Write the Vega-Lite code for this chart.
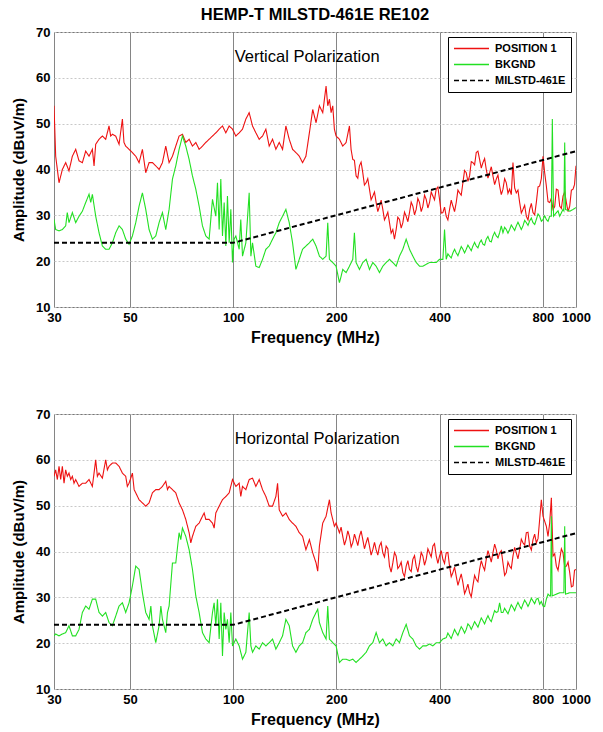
{
  "$schema": "https://vega.github.io/schema/vega-lite/v6.json",
  "padding": {"left": 11, "top": 6, "right": 10, "bottom": 2},
  "background": "white",
  "config": {
    "font": "Liberation Sans",
    "view": {"stroke": "#777777", "strokeWidth": 1},
    "axis": {"labelFont": "Liberation Sans", "labelFontWeight": "bold", "labelFontSize": 13, "labelColor": "black", "titleFont": "Liberation Sans", "titleFontWeight": "bold", "titleFontSize": 15, "titleColor": "black", "domain": false, "ticks": false},
    "legend": {"title": null, "orient": "top-right", "offset": 5, "fillColor": "white", "strokeColor": "black", "padding": 5, "symbolType": "stroke", "symbolSize": 1225, "symbolStrokeWidth": 1.5, "clipHeight": 13, "labelFont": "Liberation Sans", "labelFontSize": 11, "labelFontWeight": "bold", "labelColor": "black", "rowPadding": 3, "labelOffset": 5},
    "title": {"font": "Liberation Sans", "fontSize": 16.5, "fontWeight": "bold", "color": "black", "offset": 3}
  },
  "resolve": {"scale": {"color": "independent", "strokeDash": "independent"}, "legend": {"color": "independent", "strokeDash": "independent"}},
  "spacing": 61,
  "datasets": {
    "vert": [
      {"series":"POSITION 1","freq":30,"amp":53.9},{"series":"POSITION 1","freq":30.34,"amp":42.9},{"series":"POSITION 1","freq":31.03,"amp":37.1},{"series":"POSITION 1","freq":31.73,"amp":40.0},{"series":"POSITION 1","freq":32.45,"amp":41.5},{"series":"POSITION 1","freq":33.18,"amp":39.7},{"series":"POSITION 1","freq":33.94,"amp":42.9},{"series":"POSITION 1","freq":34.71,"amp":44.4},{"series":"POSITION 1","freq":35.49,"amp":41.9},{"series":"POSITION 1","freq":36.3,"amp":41.5},{"series":"POSITION 1","freq":37.12,"amp":44.0},{"series":"POSITION 1","freq":37.96,"amp":42.9},{"series":"POSITION 1","freq":38.82,"amp":44.4},{"series":"POSITION 1","freq":39.26,"amp":40.8},{"series":"POSITION 1","freq":39.7,"amp":45.5},{"series":"POSITION 1","freq":40.6,"amp":46.6},{"series":"POSITION 1","freq":41.52,"amp":47.3},{"series":"POSITION 1","freq":42.46,"amp":46.6},{"series":"POSITION 1","freq":43.42,"amp":49.5},{"series":"POSITION 1","freq":43.9,"amp":47.3},{"series":"POSITION 1","freq":44.41,"amp":47.7},{"series":"POSITION 1","freq":45.41,"amp":47.3},{"series":"POSITION 1","freq":46.44,"amp":45.5},{"series":"POSITION 1","freq":47.5,"amp":51.0},{"series":"POSITION 1","freq":48.0,"amp":45.9},{"series":"POSITION 1","freq":48.57,"amp":45.1},{"series":"POSITION 1","freq":49.67,"amp":44.4},{"series":"POSITION 1","freq":50.8,"amp":43.7},{"series":"POSITION 1","freq":51.95,"amp":42.9},{"series":"POSITION 1","freq":53.13,"amp":41.5},{"series":"POSITION 1","freq":54.33,"amp":44.4},{"series":"POSITION 1","freq":55.56,"amp":39.3},{"series":"POSITION 1","freq":56.82,"amp":41.5},{"series":"POSITION 1","freq":58.11,"amp":41.5},{"series":"POSITION 1","freq":59.43,"amp":40.8},{"series":"POSITION 1","freq":60.77,"amp":40.0},{"series":"POSITION 1","freq":62.15,"amp":41.5},{"series":"POSITION 1","freq":63.56,"amp":45.1},{"series":"POSITION 1","freq":65.0,"amp":41.5},{"series":"POSITION 1","freq":66.48,"amp":42.9},{"series":"POSITION 1","freq":67.98,"amp":45.1},{"series":"POSITION 1","freq":69.52,"amp":47.3},{"series":"POSITION 1","freq":71.1,"amp":47.7},{"series":"POSITION 1","freq":72.71,"amp":45.9},{"series":"POSITION 1","freq":74.36,"amp":46.6},{"series":"POSITION 1","freq":76.04,"amp":45.1},{"series":"POSITION 1","freq":77.77,"amp":45.9},{"series":"POSITION 1","freq":79.53,"amp":44.4},{"series":"POSITION 1","freq":81.33,"amp":45.1},{"series":"POSITION 1","freq":83.18,"amp":45.9},{"series":"POSITION 1","freq":85.06,"amp":46.6},{"series":"POSITION 1","freq":86.99,"amp":47.3},{"series":"POSITION 1","freq":88.96,"amp":48.0},{"series":"POSITION 1","freq":90.98,"amp":48.8},{"series":"POSITION 1","freq":93.04,"amp":49.5},{"series":"POSITION 1","freq":95.15,"amp":48.0},{"series":"POSITION 1","freq":97.31,"amp":49.5},{"series":"POSITION 1","freq":99.51,"amp":48.8},{"series":"POSITION 1","freq":101.77,"amp":47.3},{"series":"POSITION 1","freq":104.07,"amp":48.0},{"series":"POSITION 1","freq":106.43,"amp":48.8},{"series":"POSITION 1","freq":108.85,"amp":51.0},{"series":"POSITION 1","freq":111.31,"amp":52.4},{"series":"POSITION 1","freq":113.84,"amp":49.5},{"series":"POSITION 1","freq":116.42,"amp":48.0},{"series":"POSITION 1","freq":119.06,"amp":46.6},{"series":"POSITION 1","freq":121.76,"amp":47.3},{"series":"POSITION 1","freq":124.52,"amp":48.8},{"series":"POSITION 1","freq":127.34,"amp":45.1},{"series":"POSITION 1","freq":130.23,"amp":46.6},{"series":"POSITION 1","freq":133.18,"amp":44.4},{"series":"POSITION 1","freq":136.2,"amp":45.9},{"series":"POSITION 1","freq":139.29,"amp":44.4},{"series":"POSITION 1","freq":142.44,"amp":49.5},{"series":"POSITION 1","freq":145.67,"amp":46.6},{"series":"POSITION 1","freq":148.98,"amp":44.4},{"series":"POSITION 1","freq":152.35,"amp":43.7},{"series":"POSITION 1","freq":155.81,"amp":42.9},{"series":"POSITION 1","freq":159.34,"amp":41.5},{"series":"POSITION 1","freq":162.95,"amp":42.9},{"series":"POSITION 1","freq":166.8,"amp":48.0},{"series":"POSITION 1","freq":170.58,"amp":53.1},{"series":"POSITION 1","freq":174.45,"amp":50.2},{"series":"POSITION 1","freq":178.4,"amp":53.9},{"series":"POSITION 1","freq":182.45,"amp":52.4},{"series":"POSITION 1","freq":186.58,"amp":58.2},{"series":"POSITION 1","freq":188.7,"amp":53.9},{"series":"POSITION 1","freq":190.81,"amp":55.3},{"series":"POSITION 1","freq":193.0,"amp":52.4},{"series":"POSITION 1","freq":195.14,"amp":53.9},{"series":"POSITION 1","freq":197.3,"amp":48.8},{"series":"POSITION 1","freq":199.56,"amp":47.3},{"series":"POSITION 1","freq":204.09,"amp":46.6},{"series":"POSITION 1","freq":208.71,"amp":45.1},{"series":"POSITION 1","freq":213.44,"amp":45.9},{"series":"POSITION 1","freq":218.28,"amp":49.5},{"series":"POSITION 1","freq":220.7,"amp":44.4},{"series":"POSITION 1","freq":223.23,"amp":42.2},{"series":"POSITION 1","freq":228.29,"amp":38.6},{"series":"POSITION 1","freq":233.47,"amp":40.8},{"series":"POSITION 1","freq":238.76,"amp":39.3},{"series":"POSITION 1","freq":244.17,"amp":37.1},{"series":"POSITION 1","freq":249.71,"amp":35.7},{"series":"POSITION 1","freq":255.37,"amp":34.2},{"series":"POSITION 1","freq":261.16,"amp":32.8},{"series":"POSITION 1","freq":267.08,"amp":32.0},{"series":"POSITION 1","freq":273.14,"amp":31.3},{"series":"POSITION 1","freq":279.33,"amp":29.8},{"series":"POSITION 1","freq":285.66,"amp":28.4},{"series":"POSITION 1","freq":292.14,"amp":26.9},{"series":"POSITION 1","freq":295.4,"amp":24.8},{"series":"POSITION 1","freq":298.76,"amp":26.9},{"series":"POSITION 1","freq":305.53,"amp":29.1},{"series":"POSITION 1","freq":312.46,"amp":28.4},{"series":"POSITION 1","freq":319.55,"amp":29.8},{"series":"POSITION 1","freq":326.79,"amp":30.6},{"series":"POSITION 1","freq":334.2,"amp":32.0},{"series":"POSITION 1","freq":341.78,"amp":31.3},{"series":"POSITION 1","freq":349.53,"amp":32.8},{"series":"POSITION 1","freq":357.45,"amp":32.0},{"series":"POSITION 1","freq":365.56,"amp":33.5},{"series":"POSITION 1","freq":373.85,"amp":32.8},{"series":"POSITION 1","freq":382.32,"amp":34.2},{"series":"POSITION 1","freq":390.99,"amp":35.7},{"series":"POSITION 1","freq":399.86,"amp":33.5},{"series":"POSITION 1","freq":408.92,"amp":30.6},{"series":"POSITION 1","freq":418.19,"amp":29.8},{"series":"POSITION 1","freq":427.68,"amp":31.3},{"series":"POSITION 1","freq":437.37,"amp":32.0},{"series":"POSITION 1","freq":447.29,"amp":32.8},{"series":"POSITION 1","freq":457.43,"amp":34.9},{"series":"POSITION 1","freq":467.8,"amp":37.1},{"series":"POSITION 1","freq":478.41,"amp":39.3},{"series":"POSITION 1","freq":489.26,"amp":38.6},{"series":"POSITION 1","freq":500.35,"amp":41.5},{"series":"POSITION 1","freq":511.69,"amp":43.7},{"series":"POSITION 1","freq":523.29,"amp":42.2},{"series":"POSITION 1","freq":535.16,"amp":41.5},{"series":"POSITION 1","freq":547.29,"amp":40.0},{"series":"POSITION 1","freq":559.7,"amp":39.3},{"series":"POSITION 1","freq":572.39,"amp":38.6},{"series":"POSITION 1","freq":585.37,"amp":37.9},{"series":"POSITION 1","freq":598.64,"amp":36.4},{"series":"POSITION 1","freq":612.21,"amp":35.7},{"series":"POSITION 1","freq":626.09,"amp":37.1},{"series":"POSITION 1","freq":640.29,"amp":35.7},{"series":"POSITION 1","freq":654.81,"amp":41.5},{"series":"POSITION 1","freq":669.65,"amp":34.9},{"series":"POSITION 1","freq":684.84,"amp":32.8},{"series":"POSITION 1","freq":700.36,"amp":31.3},{"series":"POSITION 1","freq":716.24,"amp":29.8},{"series":"POSITION 1","freq":732.48,"amp":31.3},{"series":"POSITION 1","freq":749.09,"amp":30.6},{"series":"POSITION 1","freq":766.07,"amp":32.8},{"series":"POSITION 1","freq":783.44,"amp":36.4},{"series":"POSITION 1","freq":801.2,"amp":42.9},{"series":"POSITION 1","freq":810.2,"amp":39.3},{"series":"POSITION 1","freq":819.37,"amp":36.4},{"series":"POSITION 1","freq":837.95,"amp":32.8},{"series":"POSITION 1","freq":856.94,"amp":31.3},{"series":"POSITION 1","freq":876.37,"amp":35.7},{"series":"POSITION 1","freq":896.24,"amp":32.0},{"series":"POSITION 1","freq":916.56,"amp":34.2},{"series":"POSITION 1","freq":937.34,"amp":32.8},{"series":"POSITION 1","freq":958.6,"amp":32.0},{"series":"POSITION 1","freq":980.33,"amp":35.7},{"series":"POSITION 1","freq":1000,"amp":40.8},
      {"series":"POSITION 1","freq":225.7,"amp":42.0},{"series":"POSITION 1","freq":230.9,"amp":38.1},{"series":"POSITION 1","freq":236.1,"amp":41.6},{"series":"POSITION 1","freq":241.4,"amp":36.6},{"series":"POSITION 1","freq":246.9,"amp":38.0},{"series":"POSITION 1","freq":252.5,"amp":33.4},{"series":"POSITION 1","freq":258.3,"amp":35.1},{"series":"POSITION 1","freq":264.1,"amp":30.8},{"series":"POSITION 1","freq":270.1,"amp":33.3},{"series":"POSITION 1","freq":276.2,"amp":29.0},{"series":"POSITION 1","freq":282.5,"amp":30.7},{"series":"POSITION 1","freq":288.9,"amp":26.1},{"series":"POSITION 1","freq":302.1,"amp":29.6},{"series":"POSITION 1","freq":309.0,"amp":27.2},{"series":"POSITION 1","freq":316.0,"amp":30.7},{"series":"POSITION 1","freq":323.2,"amp":28.6},{"series":"POSITION 1","freq":330.5,"amp":32.9},{"series":"POSITION 1","freq":338.0,"amp":30.1},{"series":"POSITION 1","freq":345.6,"amp":33.7},{"series":"POSITION 1","freq":353.5,"amp":30.8},{"series":"POSITION 1","freq":361.5,"amp":34.4},{"series":"POSITION 1","freq":369.7,"amp":31.6},{"series":"POSITION 1","freq":378.1,"amp":35.1},{"series":"POSITION 1","freq":386.6,"amp":33.4},{"series":"POSITION 1","freq":395.4,"amp":36.2},{"series":"POSITION 1","freq":404.4,"amp":30.5},{"series":"POSITION 1","freq":413.5,"amp":31.8},{"series":"POSITION 1","freq":422.9,"amp":29.0},{"series":"POSITION 1","freq":432.5,"amp":33.3},{"series":"POSITION 1","freq":442.3,"amp":30.8},{"series":"POSITION 1","freq":452.4,"amp":35.5},{"series":"POSITION 1","freq":462.6,"amp":34.4},{"series":"POSITION 1","freq":473.1,"amp":39.8},{"series":"POSITION 1","freq":483.8,"amp":37.4},{"series":"POSITION 1","freq":494.8,"amp":41.7},{"series":"POSITION 1","freq":506.0,"amp":41.0},{"series":"POSITION 1","freq":517.5,"amp":44.0},{"series":"POSITION 1","freq":529.2,"amp":40.3},{"series":"POSITION 1","freq":541.2,"amp":42.4},{"series":"POSITION 1","freq":553.5,"amp":38.1},{"series":"POSITION 1","freq":566.0,"amp":40.6},{"series":"POSITION 1","freq":578.9,"amp":36.7},{"series":"POSITION 1","freq":592.0,"amp":38.8},{"series":"POSITION 1","freq":605.4,"amp":34.5},{"series":"POSITION 1","freq":619.1,"amp":38.0},{"series":"POSITION 1","freq":633.2,"amp":34.8},{"series":"POSITION 1","freq":647.5,"amp":34.5},{"series":"POSITION 1","freq":662.2,"amp":36.0},{"series":"POSITION 1","freq":677.2,"amp":35.5},{"series":"POSITION 1","freq":692.6,"amp":30.5},{"series":"POSITION 1","freq":708.3,"amp":32.2},{"series":"POSITION 1","freq":724.4,"amp":29.0},{"series":"POSITION 1","freq":740.8,"amp":32.6},{"series":"POSITION 1","freq":757.6,"amp":30.1},{"series":"POSITION 1","freq":774.8,"amp":36.2},{"series":"POSITION 1","freq":792.3,"amp":38.0},{"series":"POSITION 1","freq":828.7,"amp":33.0},{"series":"POSITION 1","freq":847.4,"amp":33.7},{"series":"POSITION 1","freq":866.7,"amp":31.9},{"series":"POSITION 1","freq":886.3,"amp":35.5},{"series":"POSITION 1","freq":906.4,"amp":31.5},{"series":"POSITION 1","freq":927.0,"amp":35.1},{"series":"POSITION 1","freq":948.0,"amp":30.8},{"series":"POSITION 1","freq":969.5,"amp":35.5},{"series":"POSITION 1","freq":990.1,"amp":36.7},
      {"series":"BKGND","freq":30,"amp":29.1},{"series":"BKGND","freq":30.34,"amp":26.9},{"series":"BKGND","freq":31.03,"amp":26.6},{"series":"BKGND","freq":31.73,"amp":26.9},{"series":"BKGND","freq":32.45,"amp":27.7},{"series":"BKGND","freq":32.8,"amp":30.6},{"series":"BKGND","freq":33.18,"amp":28.4},{"series":"BKGND","freq":33.94,"amp":30.6},{"series":"BKGND","freq":34.71,"amp":28.4},{"series":"BKGND","freq":35.49,"amp":29.8},{"series":"BKGND","freq":36.3,"amp":30.9},{"series":"BKGND","freq":37.12,"amp":32.8},{"series":"BKGND","freq":37.96,"amp":34.6},{"series":"BKGND","freq":38.4,"amp":32.8},{"series":"BKGND","freq":38.82,"amp":34.6},{"series":"BKGND","freq":39.7,"amp":29.8},{"series":"BKGND","freq":40.6,"amp":26.2},{"series":"BKGND","freq":41.52,"amp":23.3},{"series":"BKGND","freq":42.46,"amp":22.6},{"series":"BKGND","freq":43.42,"amp":22.6},{"series":"BKGND","freq":44.41,"amp":24.0},{"series":"BKGND","freq":45.41,"amp":26.2},{"series":"BKGND","freq":46.44,"amp":27.7},{"series":"BKGND","freq":47.5,"amp":26.9},{"series":"BKGND","freq":48.57,"amp":24.8},{"series":"BKGND","freq":49.67,"amp":23.7},{"series":"BKGND","freq":50.8,"amp":25.5},{"series":"BKGND","freq":51.95,"amp":28.4},{"series":"BKGND","freq":53.13,"amp":32.0},{"series":"BKGND","freq":54.33,"amp":34.9},{"series":"BKGND","freq":55.56,"amp":31.3},{"series":"BKGND","freq":56.82,"amp":26.9},{"series":"BKGND","freq":58.11,"amp":24.8},{"series":"BKGND","freq":59.43,"amp":25.5},{"series":"BKGND","freq":60.77,"amp":28.4},{"series":"BKGND","freq":62.15,"amp":30.6},{"series":"BKGND","freq":63.56,"amp":26.9},{"series":"BKGND","freq":65.0,"amp":31.3},{"series":"BKGND","freq":66.48,"amp":37.9},{"series":"BKGND","freq":67.98,"amp":40.8},{"series":"BKGND","freq":69.52,"amp":44.4},{"series":"BKGND","freq":71.1,"amp":47.3},{"series":"BKGND","freq":72.71,"amp":45.1},{"series":"BKGND","freq":74.36,"amp":42.2},{"series":"BKGND","freq":76.04,"amp":38.6},{"series":"BKGND","freq":77.77,"amp":35.7},{"series":"BKGND","freq":79.53,"amp":32.0},{"series":"BKGND","freq":81.33,"amp":27.7},{"series":"BKGND","freq":83.18,"amp":25.5},{"series":"BKGND","freq":85.06,"amp":24.8},{"series":"BKGND","freq":86.99,"amp":33.5},{"series":"BKGND","freq":88.96,"amp":29.8},{"series":"BKGND","freq":89.96,"amp":37.1},{"series":"BKGND","freq":90.98,"amp":26.9},{"series":"BKGND","freq":92.0,"amp":37.9},{"series":"BKGND","freq":93.04,"amp":25.5},{"series":"BKGND","freq":94.1,"amp":32.8},{"series":"BKGND","freq":95.15,"amp":23.3},{"series":"BKGND","freq":96.2,"amp":34.2},{"series":"BKGND","freq":97.31,"amp":24.0},{"series":"BKGND","freq":98.4,"amp":31.3},{"series":"BKGND","freq":99.51,"amp":19.7},{"series":"BKGND","freq":100.6,"amp":24.8},{"series":"BKGND","freq":101.77,"amp":25.5},{"series":"BKGND","freq":104.07,"amp":22.6},{"series":"BKGND","freq":105.2,"amp":29.1},{"series":"BKGND","freq":106.43,"amp":21.1},{"series":"BKGND","freq":108.85,"amp":24.0},{"series":"BKGND","freq":111.31,"amp":34.9},{"series":"BKGND","freq":112.6,"amp":21.1},{"series":"BKGND","freq":113.84,"amp":24.0},{"series":"BKGND","freq":116.42,"amp":18.9},{"series":"BKGND","freq":119.06,"amp":18.6},{"series":"BKGND","freq":121.76,"amp":20.4},{"series":"BKGND","freq":124.52,"amp":22.6},{"series":"BKGND","freq":127.34,"amp":23.3},{"series":"BKGND","freq":130.23,"amp":24.8},{"series":"BKGND","freq":133.18,"amp":26.2},{"series":"BKGND","freq":136.2,"amp":28.4},{"series":"BKGND","freq":139.29,"amp":29.8},{"series":"BKGND","freq":142.44,"amp":31.3},{"series":"BKGND","freq":145.67,"amp":28.4},{"series":"BKGND","freq":148.98,"amp":24.0},{"series":"BKGND","freq":152.35,"amp":18.2},{"series":"BKGND","freq":155.81,"amp":20.4},{"series":"BKGND","freq":159.34,"amp":22.6},{"series":"BKGND","freq":162.95,"amp":23.3},{"series":"BKGND","freq":166.8,"amp":24.0},{"series":"BKGND","freq":170.58,"amp":24.8},{"series":"BKGND","freq":174.45,"amp":23.3},{"series":"BKGND","freq":178.4,"amp":21.1},{"series":"BKGND","freq":182.45,"amp":20.4},{"series":"BKGND","freq":186.58,"amp":21.1},{"series":"BKGND","freq":188.7,"amp":28.4},{"series":"BKGND","freq":190.81,"amp":20.4},{"series":"BKGND","freq":195.14,"amp":19.7},{"series":"BKGND","freq":199.56,"amp":18.9},{"series":"BKGND","freq":204.09,"amp":15.3},{"series":"BKGND","freq":206.4,"amp":16.7},{"series":"BKGND","freq":208.71,"amp":18.2},{"series":"BKGND","freq":213.44,"amp":17.5},{"series":"BKGND","freq":218.28,"amp":18.9},{"series":"BKGND","freq":223.23,"amp":20.4},{"series":"BKGND","freq":225.7,"amp":26.2},{"series":"BKGND","freq":228.29,"amp":19.7},{"series":"BKGND","freq":233.47,"amp":18.2},{"series":"BKGND","freq":238.76,"amp":19.7},{"series":"BKGND","freq":244.17,"amp":20.4},{"series":"BKGND","freq":249.71,"amp":18.2},{"series":"BKGND","freq":255.37,"amp":19.7},{"series":"BKGND","freq":261.16,"amp":18.9},{"series":"BKGND","freq":267.08,"amp":17.5},{"series":"BKGND","freq":273.14,"amp":18.9},{"series":"BKGND","freq":279.33,"amp":19.7},{"series":"BKGND","freq":285.66,"amp":20.4},{"series":"BKGND","freq":292.14,"amp":19.7},{"series":"BKGND","freq":298.76,"amp":18.9},{"series":"BKGND","freq":305.53,"amp":21.1},{"series":"BKGND","freq":312.46,"amp":22.6},{"series":"BKGND","freq":319.55,"amp":24.8},{"series":"BKGND","freq":326.79,"amp":22.6},{"series":"BKGND","freq":334.2,"amp":21.1},{"series":"BKGND","freq":341.78,"amp":19.7},{"series":"BKGND","freq":349.53,"amp":18.9},{"series":"BKGND","freq":357.45,"amp":18.9},{"series":"BKGND","freq":365.56,"amp":19.3},{"series":"BKGND","freq":373.85,"amp":19.7},{"series":"BKGND","freq":382.32,"amp":19.7},{"series":"BKGND","freq":390.99,"amp":19.7},{"series":"BKGND","freq":399.86,"amp":20.4},{"series":"BKGND","freq":408.92,"amp":20.4},{"series":"BKGND","freq":413.5,"amp":26.9},{"series":"BKGND","freq":418.19,"amp":20.4},{"series":"BKGND","freq":427.68,"amp":21.1},{"series":"BKGND","freq":437.37,"amp":21.8},{"series":"BKGND","freq":447.29,"amp":21.8},{"series":"BKGND","freq":457.43,"amp":22.2},{"series":"BKGND","freq":467.8,"amp":22.6},{"series":"BKGND","freq":478.41,"amp":22.6},{"series":"BKGND","freq":489.26,"amp":22.9},{"series":"BKGND","freq":500.35,"amp":23.3},{"series":"BKGND","freq":511.69,"amp":23.3},{"series":"BKGND","freq":523.29,"amp":24.0},{"series":"BKGND","freq":535.16,"amp":23.7},{"series":"BKGND","freq":547.29,"amp":24.8},{"series":"BKGND","freq":559.7,"amp":24.4},{"series":"BKGND","freq":572.39,"amp":25.5},{"series":"BKGND","freq":585.37,"amp":25.5},{"series":"BKGND","freq":598.64,"amp":26.2},{"series":"BKGND","freq":605.4,"amp":27.7},{"series":"BKGND","freq":612.21,"amp":26.2},{"series":"BKGND","freq":626.09,"amp":26.9},{"series":"BKGND","freq":640.29,"amp":26.9},{"series":"BKGND","freq":654.81,"amp":27.3},{"series":"BKGND","freq":669.65,"amp":27.7},{"series":"BKGND","freq":684.84,"amp":27.7},{"series":"BKGND","freq":700.36,"amp":27.7},{"series":"BKGND","freq":716.24,"amp":28.4},{"series":"BKGND","freq":732.48,"amp":28.8},{"series":"BKGND","freq":749.09,"amp":28.4},{"series":"BKGND","freq":766.07,"amp":29.1},{"series":"BKGND","freq":783.44,"amp":29.8},{"series":"BKGND","freq":801.2,"amp":29.1},{"series":"BKGND","freq":819.37,"amp":29.1},{"series":"BKGND","freq":837.95,"amp":29.8},{"series":"BKGND","freq":847.4,"amp":29.8},{"series":"BKGND","freq":853,"amp":51.0},{"series":"BKGND","freq":860,"amp":29.8},{"series":"BKGND","freq":876.37,"amp":30.6},{"series":"BKGND","freq":896.24,"amp":29.8},{"series":"BKGND","freq":916.56,"amp":31.3},{"series":"BKGND","freq":921.7,"amp":31.0},{"series":"BKGND","freq":926.9,"amp":45.9},{"series":"BKGND","freq":932,"amp":31.3},{"series":"BKGND","freq":958.6,"amp":30.9},{"series":"BKGND","freq":980.33,"amp":31.3},{"series":"BKGND","freq":1000,"amp":31.7},
      {"series":"BKGND","freq":422.9,"amp":21.6},{"series":"BKGND","freq":432.5,"amp":20.7},{"series":"BKGND","freq":442.3,"amp":22.6},{"series":"BKGND","freq":452.4,"amp":21.2},{"series":"BKGND","freq":462.6,"amp":23.2},{"series":"BKGND","freq":473.1,"amp":21.8},{"series":"BKGND","freq":483.8,"amp":23.5},{"series":"BKGND","freq":494.8,"amp":22.3},{"series":"BKGND","freq":506.0,"amp":24.1},{"series":"BKGND","freq":517.5,"amp":22.9},{"series":"BKGND","freq":529.2,"amp":24.6},{"series":"BKGND","freq":541.2,"amp":23.5},{"series":"BKGND","freq":553.5,"amp":25.4},{"series":"BKGND","freq":566.0,"amp":24.2},{"series":"BKGND","freq":578.9,"amp":26.3},{"series":"BKGND","freq":592.0,"amp":25.1},{"series":"BKGND","freq":619.1,"amp":27.4},{"series":"BKGND","freq":633.2,"amp":26.1},{"series":"BKGND","freq":647.5,"amp":27.9},{"series":"BKGND","freq":662.2,"amp":26.7},{"series":"BKGND","freq":677.2,"amp":28.5},{"series":"BKGND","freq":692.6,"amp":26.9},{"series":"BKGND","freq":708.3,"amp":28.9},{"series":"BKGND","freq":724.4,"amp":27.8},{"series":"BKGND","freq":740.8,"amp":29.4},{"series":"BKGND","freq":757.6,"amp":28.0},{"series":"BKGND","freq":774.8,"amp":30.3},{"series":"BKGND","freq":792.3,"amp":28.7},{"series":"BKGND","freq":810.2,"amp":29.9},{"series":"BKGND","freq":828.7,"amp":28.7},{"series":"BKGND","freq":886.3,"amp":31.0},
      {"series":"MILSTD-461E","freq":30,"amp":24},{"series":"MILSTD-461E","freq":100,"amp":24},{"series":"MILSTD-461E","freq":1000,"amp":44}
    ],
    "horiz": [
      {"series":"POSITION 1","freq":30,"amp":56.4},{"series":"POSITION 1","freq":30.34,"amp":57.8},{"series":"POSITION 1","freq":30.68,"amp":55.7},{"series":"POSITION 1","freq":31.03,"amp":58.6},{"series":"POSITION 1","freq":31.38,"amp":55.7},{"series":"POSITION 1","freq":31.73,"amp":58.6},{"series":"POSITION 1","freq":32.09,"amp":54.9},{"series":"POSITION 1","freq":32.45,"amp":57.8},{"series":"POSITION 1","freq":32.81,"amp":56.4},{"series":"POSITION 1","freq":33.18,"amp":57.1},{"series":"POSITION 1","freq":33.56,"amp":55.7},{"series":"POSITION 1","freq":33.94,"amp":56.4},{"series":"POSITION 1","freq":34.32,"amp":54.9},{"series":"POSITION 1","freq":34.71,"amp":55.7},{"series":"POSITION 1","freq":35.49,"amp":54.2},{"series":"POSITION 1","freq":36.3,"amp":54.9},{"series":"POSITION 1","freq":37.12,"amp":54.9},{"series":"POSITION 1","freq":37.96,"amp":55.7},{"series":"POSITION 1","freq":38.82,"amp":54.2},{"series":"POSITION 1","freq":39.7,"amp":60.0},{"series":"POSITION 1","freq":40.15,"amp":56.4},{"series":"POSITION 1","freq":40.6,"amp":57.1},{"series":"POSITION 1","freq":41.52,"amp":56.0},{"series":"POSITION 1","freq":42.46,"amp":60.0},{"series":"POSITION 1","freq":42.94,"amp":57.8},{"series":"POSITION 1","freq":43.42,"amp":58.6},{"series":"POSITION 1","freq":44.41,"amp":59.3},{"series":"POSITION 1","freq":45.41,"amp":59.3},{"series":"POSITION 1","freq":46.44,"amp":58.6},{"series":"POSITION 1","freq":47.5,"amp":57.1},{"series":"POSITION 1","freq":48.57,"amp":56.4},{"series":"POSITION 1","freq":49.1,"amp":54.2},{"series":"POSITION 1","freq":49.67,"amp":54.9},{"series":"POSITION 1","freq":50.8,"amp":57.1},{"series":"POSITION 1","freq":51.4,"amp":53.5},{"series":"POSITION 1","freq":51.95,"amp":52.8},{"series":"POSITION 1","freq":53.13,"amp":51.3},{"series":"POSITION 1","freq":54.33,"amp":50.6},{"series":"POSITION 1","freq":55.56,"amp":49.9},{"series":"POSITION 1","freq":56.82,"amp":50.6},{"series":"POSITION 1","freq":58.11,"amp":52.8},{"series":"POSITION 1","freq":59.43,"amp":53.5},{"series":"POSITION 1","freq":60.77,"amp":53.5},{"series":"POSITION 1","freq":62.15,"amp":54.2},{"series":"POSITION 1","freq":63.56,"amp":55.3},{"series":"POSITION 1","freq":64.3,"amp":53.5},{"series":"POSITION 1","freq":65.0,"amp":54.2},{"series":"POSITION 1","freq":66.48,"amp":53.5},{"series":"POSITION 1","freq":67.98,"amp":52.8},{"series":"POSITION 1","freq":69.52,"amp":50.6},{"series":"POSITION 1","freq":71.1,"amp":49.1},{"series":"POSITION 1","freq":72.71,"amp":47.0},{"series":"POSITION 1","freq":74.36,"amp":44.1},{"series":"POSITION 1","freq":75.2,"amp":41.9},{"series":"POSITION 1","freq":76.04,"amp":43.3},{"series":"POSITION 1","freq":77.77,"amp":45.5},{"series":"POSITION 1","freq":79.53,"amp":46.2},{"series":"POSITION 1","freq":81.33,"amp":47.7},{"series":"POSITION 1","freq":82.25,"amp":48.4},{"series":"POSITION 1","freq":83.18,"amp":47.0},{"series":"POSITION 1","freq":85.06,"amp":47.0},{"series":"POSITION 1","freq":86.99,"amp":46.2},{"series":"POSITION 1","freq":87.97,"amp":45.1},{"series":"POSITION 1","freq":88.96,"amp":48.4},{"series":"POSITION 1","freq":90.98,"amp":49.9},{"series":"POSITION 1","freq":93.04,"amp":51.3},{"series":"POSITION 1","freq":95.15,"amp":52.0},{"series":"POSITION 1","freq":97.31,"amp":52.8},{"series":"POSITION 1","freq":99.51,"amp":55.7},{"series":"POSITION 1","freq":101.77,"amp":54.2},{"series":"POSITION 1","freq":104.07,"amp":54.9},{"series":"POSITION 1","freq":105.2,"amp":52.0},{"series":"POSITION 1","freq":106.43,"amp":54.2},{"series":"POSITION 1","freq":108.85,"amp":53.5},{"series":"POSITION 1","freq":111.31,"amp":55.7},{"series":"POSITION 1","freq":113.84,"amp":56.0},{"series":"POSITION 1","freq":116.42,"amp":54.2},{"series":"POSITION 1","freq":119.06,"amp":55.7},{"series":"POSITION 1","freq":121.76,"amp":53.5},{"series":"POSITION 1","freq":124.52,"amp":52.0},{"series":"POSITION 1","freq":127.34,"amp":49.9},{"series":"POSITION 1","freq":130.23,"amp":49.9},{"series":"POSITION 1","freq":133.18,"amp":52.0},{"series":"POSITION 1","freq":134.7,"amp":54.9},{"series":"POSITION 1","freq":136.2,"amp":49.1},{"series":"POSITION 1","freq":139.29,"amp":47.7},{"series":"POSITION 1","freq":142.44,"amp":48.4},{"series":"POSITION 1","freq":145.67,"amp":47.0},{"series":"POSITION 1","freq":148.98,"amp":46.2},{"series":"POSITION 1","freq":152.35,"amp":45.5},{"series":"POSITION 1","freq":155.81,"amp":44.1},{"series":"POSITION 1","freq":159.34,"amp":43.3},{"series":"POSITION 1","freq":162.95,"amp":40.4},{"series":"POSITION 1","freq":166.8,"amp":42.6},{"series":"POSITION 1","freq":170.58,"amp":39.7},{"series":"POSITION 1","freq":174.45,"amp":37.5},{"series":"POSITION 1","freq":176.4,"amp":35.7},{"series":"POSITION 1","freq":178.4,"amp":41.2},{"series":"POSITION 1","freq":182.45,"amp":46.2},{"series":"POSITION 1","freq":186.58,"amp":47.7},{"series":"POSITION 1","freq":190.81,"amp":51.3},{"series":"POSITION 1","freq":193.0,"amp":48.4},{"series":"POSITION 1","freq":195.14,"amp":47.0},{"series":"POSITION 1","freq":197.3,"amp":45.5},{"series":"POSITION 1","freq":199.56,"amp":46.2},{"series":"POSITION 1","freq":204.09,"amp":44.1},{"series":"POSITION 1","freq":208.71,"amp":43.3},{"series":"POSITION 1","freq":213.44,"amp":42.6},{"series":"POSITION 1","freq":218.28,"amp":43.3},{"series":"POSITION 1","freq":223.23,"amp":41.9},{"series":"POSITION 1","freq":228.29,"amp":42.6},{"series":"POSITION 1","freq":233.47,"amp":43.3},{"series":"POSITION 1","freq":238.76,"amp":42.6},{"series":"POSITION 1","freq":244.17,"amp":41.9},{"series":"POSITION 1","freq":249.71,"amp":41.2},{"series":"POSITION 1","freq":255.37,"amp":40.4},{"series":"POSITION 1","freq":261.16,"amp":40.4},{"series":"POSITION 1","freq":267.08,"amp":41.2},{"series":"POSITION 1","freq":273.14,"amp":39.7},{"series":"POSITION 1","freq":279.33,"amp":41.2},{"series":"POSITION 1","freq":285.66,"amp":36.8},{"series":"POSITION 1","freq":292.14,"amp":37.5},{"series":"POSITION 1","freq":298.76,"amp":39.0},{"series":"POSITION 1","freq":305.53,"amp":36.8},{"series":"POSITION 1","freq":312.46,"amp":35.4},{"series":"POSITION 1","freq":319.55,"amp":36.8},{"series":"POSITION 1","freq":326.79,"amp":36.1},{"series":"POSITION 1","freq":334.2,"amp":38.3},{"series":"POSITION 1","freq":341.78,"amp":36.8},{"series":"POSITION 1","freq":349.53,"amp":37.5},{"series":"POSITION 1","freq":357.45,"amp":39.0},{"series":"POSITION 1","freq":365.56,"amp":38.3},{"series":"POSITION 1","freq":373.85,"amp":39.7},{"series":"POSITION 1","freq":382.32,"amp":41.2},{"series":"POSITION 1","freq":390.99,"amp":39.0},{"series":"POSITION 1","freq":399.86,"amp":39.0},{"series":"POSITION 1","freq":408.92,"amp":38.3},{"series":"POSITION 1","freq":418.19,"amp":39.7},{"series":"POSITION 1","freq":427.68,"amp":36.8},{"series":"POSITION 1","freq":437.37,"amp":35.4},{"series":"POSITION 1","freq":447.29,"amp":34.6},{"series":"POSITION 1","freq":457.43,"amp":33.9},{"series":"POSITION 1","freq":467.8,"amp":33.2},{"series":"POSITION 1","freq":478.41,"amp":31.7},{"series":"POSITION 1","freq":489.26,"amp":31.0},{"series":"POSITION 1","freq":500.35,"amp":32.5},{"series":"POSITION 1","freq":511.69,"amp":33.9},{"series":"POSITION 1","freq":523.29,"amp":36.1},{"series":"POSITION 1","freq":535.16,"amp":36.8},{"series":"POSITION 1","freq":547.29,"amp":38.3},{"series":"POSITION 1","freq":559.7,"amp":39.0},{"series":"POSITION 1","freq":572.39,"amp":39.7},{"series":"POSITION 1","freq":585.37,"amp":40.4},{"series":"POSITION 1","freq":598.64,"amp":39.7},{"series":"POSITION 1","freq":612.21,"amp":37.5},{"series":"POSITION 1","freq":626.09,"amp":35.4},{"series":"POSITION 1","freq":640.29,"amp":36.8},{"series":"POSITION 1","freq":654.81,"amp":39.0},{"series":"POSITION 1","freq":669.65,"amp":39.7},{"series":"POSITION 1","freq":684.84,"amp":40.4},{"series":"POSITION 1","freq":700.36,"amp":41.9},{"series":"POSITION 1","freq":716.24,"amp":44.1},{"series":"POSITION 1","freq":732.48,"amp":41.2},{"series":"POSITION 1","freq":749.09,"amp":42.6},{"series":"POSITION 1","freq":766.07,"amp":41.9},{"series":"POSITION 1","freq":783.44,"amp":47.0},{"series":"POSITION 1","freq":792.3,"amp":51.3},{"series":"POSITION 1","freq":801.2,"amp":47.7},{"series":"POSITION 1","freq":819.37,"amp":45.5},{"series":"POSITION 1","freq":828.6,"amp":43.3},{"series":"POSITION 1","freq":837.95,"amp":46.2},{"series":"POSITION 1","freq":847.4,"amp":51.7},{"series":"POSITION 1","freq":856.94,"amp":39.0},{"series":"POSITION 1","freq":876.37,"amp":36.8},{"series":"POSITION 1","freq":896.24,"amp":38.3},{"series":"POSITION 1","freq":916.56,"amp":39.7},{"series":"POSITION 1","freq":937.34,"amp":36.8},{"series":"POSITION 1","freq":958.6,"amp":35.4},{"series":"POSITION 1","freq":980.33,"amp":32.5},{"series":"POSITION 1","freq":1000,"amp":36.1},
      {"series":"POSITION 1","freq":206.4,"amp":45.3},{"series":"POSITION 1","freq":211.1,"amp":41.4},{"series":"POSITION 1","freq":215.9,"amp":44.5},{"series":"POSITION 1","freq":220.8,"amp":41.0},{"series":"POSITION 1","freq":225.8,"amp":43.8},{"series":"POSITION 1","freq":230.9,"amp":41.3},{"series":"POSITION 1","freq":236.1,"amp":44.5},{"series":"POSITION 1","freq":241.5,"amp":40.6},{"series":"POSITION 1","freq":246.9,"amp":43.1},{"series":"POSITION 1","freq":252.5,"amp":39.2},{"series":"POSITION 1","freq":258.3,"amp":42.0},{"series":"POSITION 1","freq":264.1,"amp":39.2},{"series":"POSITION 1","freq":270.1,"amp":42.0},{"series":"POSITION 1","freq":276.2,"amp":38.8},{"series":"POSITION 1","freq":282.5,"amp":40.6},{"series":"POSITION 1","freq":288.9,"amp":35.5},{"series":"POSITION 1","freq":295.4,"amp":39.8},{"series":"POSITION 1","freq":302.1,"amp":36.3},{"series":"POSITION 1","freq":309.0,"amp":37.7},{"series":"POSITION 1","freq":316.0,"amp":34.5},{"series":"POSITION 1","freq":323.2,"amp":38.0},{"series":"POSITION 1","freq":330.5,"amp":35.6},{"series":"POSITION 1","freq":338.0,"amp":39.1},{"series":"POSITION 1","freq":345.6,"amp":35.5},{"series":"POSITION 1","freq":353.5,"amp":39.8},{"series":"POSITION 1","freq":361.5,"amp":37.0},{"series":"POSITION 1","freq":369.7,"amp":40.6},{"series":"POSITION 1","freq":378.1,"amp":38.8},{"series":"POSITION 1","freq":386.6,"amp":41.7},{"series":"POSITION 1","freq":395.4,"amp":37.4},{"series":"POSITION 1","freq":404.4,"amp":40.2},{"series":"POSITION 1","freq":413.5,"amp":37.4},{"series":"POSITION 1","freq":422.9,"amp":39.8},{"series":"POSITION 1","freq":432.5,"amp":34.5},{"series":"POSITION 1","freq":442.3,"amp":36.6},{"series":"POSITION 1","freq":452.4,"amp":32.6},{"series":"POSITION 1","freq":462.6,"amp":35.1},{"series":"POSITION 1","freq":473.1,"amp":30.8},{"series":"POSITION 1","freq":483.8,"amp":32.9},{"series":"POSITION 1","freq":494.8,"amp":30.1},{"series":"POSITION 1","freq":506.0,"amp":34.8},{"series":"POSITION 1","freq":517.5,"amp":33.4},{"series":"POSITION 1","freq":529.2,"amp":38.0},{"series":"POSITION 1","freq":541.2,"amp":35.9},{"series":"POSITION 1","freq":553.5,"amp":40.2},{"series":"POSITION 1","freq":566.0,"amp":37.7},{"series":"POSITION 1","freq":578.9,"amp":41.6},{"series":"POSITION 1","freq":592.0,"amp":38.4},{"series":"POSITION 1","freq":605.4,"amp":40.2},{"series":"POSITION 1","freq":619.1,"amp":34.8},{"series":"POSITION 1","freq":633.2,"amp":37.7},{"series":"POSITION 1","freq":647.5,"amp":36.3},{"series":"POSITION 1","freq":662.2,"amp":40.9},{"series":"POSITION 1","freq":677.2,"amp":38.4},{"series":"POSITION 1","freq":692.6,"amp":42.7},{"series":"POSITION 1","freq":708.3,"amp":41.4},{"series":"POSITION 1","freq":724.4,"amp":44.2},{"series":"POSITION 1","freq":740.8,"amp":40.3},{"series":"POSITION 1","freq":757.6,"amp":43.8},{"series":"POSITION 1","freq":774.8,"amp":42.8},{"series":"POSITION 1","freq":866.7,"amp":39.5},{"series":"POSITION 1","freq":886.3,"amp":35.9},{"series":"POSITION 1","freq":906.4,"amp":40.6},{"series":"POSITION 1","freq":927.0,"amp":36.6},{"series":"POSITION 1","freq":948.0,"amp":37.7},{"series":"POSITION 1","freq":969.5,"amp":32.3},{"series":"POSITION 1","freq":990.1,"amp":35.9},
      {"series":"BKGND","freq":30,"amp":21.6},{"series":"BKGND","freq":30.34,"amp":22.0},{"series":"BKGND","freq":31.03,"amp":21.6},{"series":"BKGND","freq":31.73,"amp":22.0},{"series":"BKGND","freq":32.45,"amp":22.3},{"series":"BKGND","freq":33.18,"amp":23.8},{"series":"BKGND","freq":33.94,"amp":21.6},{"series":"BKGND","freq":34.71,"amp":21.6},{"series":"BKGND","freq":35.49,"amp":23.0},{"series":"BKGND","freq":36.3,"amp":26.7},{"series":"BKGND","freq":37.12,"amp":28.1},{"series":"BKGND","freq":37.96,"amp":27.4},{"series":"BKGND","freq":38.82,"amp":29.6},{"series":"BKGND","freq":39.7,"amp":29.6},{"series":"BKGND","freq":40.6,"amp":26.7},{"series":"BKGND","freq":41.52,"amp":25.9},{"series":"BKGND","freq":42.46,"amp":26.7},{"series":"BKGND","freq":43.42,"amp":24.5},{"series":"BKGND","freq":44.41,"amp":23.8},{"series":"BKGND","freq":45.41,"amp":25.9},{"series":"BKGND","freq":46.44,"amp":28.1},{"series":"BKGND","freq":47.5,"amp":28.8},{"series":"BKGND","freq":48.57,"amp":26.7},{"series":"BKGND","freq":49.67,"amp":28.8},{"series":"BKGND","freq":50.8,"amp":32.5},{"series":"BKGND","freq":51.95,"amp":36.8},{"series":"BKGND","freq":53.13,"amp":36.1},{"series":"BKGND","freq":54.33,"amp":31.0},{"series":"BKGND","freq":55.56,"amp":26.7},{"series":"BKGND","freq":56.82,"amp":25.2},{"series":"BKGND","freq":57.5,"amp":28.1},{"series":"BKGND","freq":58.11,"amp":23.8},{"series":"BKGND","freq":59.43,"amp":20.1},{"series":"BKGND","freq":60.77,"amp":23.8},{"series":"BKGND","freq":61.5,"amp":28.1},{"series":"BKGND","freq":62.15,"amp":25.2},{"series":"BKGND","freq":63.56,"amp":22.3},{"series":"BKGND","freq":64.3,"amp":26.7},{"series":"BKGND","freq":65.0,"amp":28.1},{"series":"BKGND","freq":66.48,"amp":37.5},{"series":"BKGND","freq":67.98,"amp":37.5},{"series":"BKGND","freq":69.52,"amp":44.1},{"series":"BKGND","freq":70.3,"amp":42.6},{"series":"BKGND","freq":71.1,"amp":45.1},{"series":"BKGND","freq":72.71,"amp":43.3},{"series":"BKGND","freq":74.36,"amp":40.4},{"series":"BKGND","freq":76.04,"amp":36.1},{"series":"BKGND","freq":77.77,"amp":30.3},{"series":"BKGND","freq":79.53,"amp":26.7},{"series":"BKGND","freq":81.33,"amp":22.3},{"series":"BKGND","freq":83.18,"amp":20.9},{"series":"BKGND","freq":85.06,"amp":20.1},{"series":"BKGND","freq":86.99,"amp":26.7},{"series":"BKGND","freq":87.97,"amp":28.8},{"series":"BKGND","freq":88.96,"amp":23.8},{"series":"BKGND","freq":89.96,"amp":29.6},{"series":"BKGND","freq":90.98,"amp":20.9},{"series":"BKGND","freq":92.0,"amp":28.8},{"series":"BKGND","freq":93.04,"amp":17.2},{"series":"BKGND","freq":94.1,"amp":26.7},{"series":"BKGND","freq":95.15,"amp":23.0},{"series":"BKGND","freq":96.2,"amp":25.2},{"series":"BKGND","freq":97.31,"amp":20.1},{"series":"BKGND","freq":98.4,"amp":26.7},{"series":"BKGND","freq":99.51,"amp":19.4},{"series":"BKGND","freq":101.77,"amp":20.9},{"series":"BKGND","freq":104.07,"amp":19.4},{"series":"BKGND","freq":106.43,"amp":16.5},{"series":"BKGND","freq":108.85,"amp":18.0},{"series":"BKGND","freq":111.31,"amp":26.7},{"series":"BKGND","freq":112.6,"amp":19.4},{"series":"BKGND","freq":113.84,"amp":18.0},{"series":"BKGND","freq":116.42,"amp":19.4},{"series":"BKGND","freq":119.06,"amp":18.7},{"series":"BKGND","freq":121.76,"amp":20.1},{"series":"BKGND","freq":124.52,"amp":19.4},{"series":"BKGND","freq":127.34,"amp":20.1},{"series":"BKGND","freq":130.23,"amp":20.9},{"series":"BKGND","freq":133.18,"amp":18.7},{"series":"BKGND","freq":136.2,"amp":20.1},{"series":"BKGND","freq":139.29,"amp":21.6},{"series":"BKGND","freq":142.44,"amp":25.2},{"series":"BKGND","freq":145.67,"amp":23.8},{"series":"BKGND","freq":148.98,"amp":19.4},{"series":"BKGND","freq":152.35,"amp":18.0},{"series":"BKGND","freq":155.81,"amp":19.4},{"series":"BKGND","freq":159.34,"amp":20.1},{"series":"BKGND","freq":162.95,"amp":22.3},{"series":"BKGND","freq":166.8,"amp":23.0},{"series":"BKGND","freq":170.58,"amp":25.2},{"series":"BKGND","freq":174.45,"amp":26.7},{"series":"BKGND","freq":176.4,"amp":27.4},{"series":"BKGND","freq":178.4,"amp":24.5},{"series":"BKGND","freq":182.45,"amp":22.3},{"series":"BKGND","freq":186.58,"amp":20.9},{"series":"BKGND","freq":188.7,"amp":28.1},{"series":"BKGND","freq":190.81,"amp":20.9},{"series":"BKGND","freq":195.14,"amp":20.1},{"series":"BKGND","freq":199.56,"amp":19.4},{"series":"BKGND","freq":204.09,"amp":15.8},{"series":"BKGND","freq":208.71,"amp":16.5},{"series":"BKGND","freq":213.44,"amp":16.5},{"series":"BKGND","freq":218.28,"amp":16.2},{"series":"BKGND","freq":223.23,"amp":16.5},{"series":"BKGND","freq":228.29,"amp":15.8},{"series":"BKGND","freq":233.47,"amp":16.5},{"series":"BKGND","freq":238.76,"amp":17.2},{"series":"BKGND","freq":244.17,"amp":18.0},{"series":"BKGND","freq":249.71,"amp":19.4},{"series":"BKGND","freq":255.37,"amp":20.1},{"series":"BKGND","freq":261.16,"amp":22.3},{"series":"BKGND","freq":267.08,"amp":20.1},{"series":"BKGND","freq":273.14,"amp":20.9},{"series":"BKGND","freq":279.33,"amp":19.4},{"series":"BKGND","freq":285.66,"amp":20.1},{"series":"BKGND","freq":292.14,"amp":19.4},{"series":"BKGND","freq":298.76,"amp":20.9},{"series":"BKGND","freq":305.53,"amp":20.1},{"series":"BKGND","freq":312.46,"amp":22.3},{"series":"BKGND","freq":319.55,"amp":24.1},{"series":"BKGND","freq":326.79,"amp":21.6},{"series":"BKGND","freq":334.2,"amp":20.9},{"series":"BKGND","freq":341.78,"amp":19.4},{"series":"BKGND","freq":349.53,"amp":18.7},{"series":"BKGND","freq":357.45,"amp":19.4},{"series":"BKGND","freq":365.56,"amp":19.4},{"series":"BKGND","freq":373.85,"amp":19.8},{"series":"BKGND","freq":382.32,"amp":19.4},{"series":"BKGND","freq":390.99,"amp":20.1},{"series":"BKGND","freq":399.86,"amp":20.1},{"series":"BKGND","freq":408.92,"amp":20.9},{"series":"BKGND","freq":418.19,"amp":21.2},{"series":"BKGND","freq":427.68,"amp":21.6},{"series":"BKGND","freq":437.37,"amp":22.0},{"series":"BKGND","freq":447.29,"amp":22.3},{"series":"BKGND","freq":457.43,"amp":22.7},{"series":"BKGND","freq":467.8,"amp":23.0},{"series":"BKGND","freq":478.41,"amp":23.0},{"series":"BKGND","freq":489.26,"amp":23.8},{"series":"BKGND","freq":500.35,"amp":23.8},{"series":"BKGND","freq":511.69,"amp":24.1},{"series":"BKGND","freq":523.29,"amp":24.5},{"series":"BKGND","freq":535.16,"amp":24.9},{"series":"BKGND","freq":547.29,"amp":25.2},{"series":"BKGND","freq":559.7,"amp":25.2},{"series":"BKGND","freq":572.39,"amp":25.9},{"series":"BKGND","freq":585.37,"amp":26.7},{"series":"BKGND","freq":598.64,"amp":28.8},{"series":"BKGND","freq":605.4,"amp":26.7},{"series":"BKGND","freq":612.21,"amp":26.7},{"series":"BKGND","freq":626.09,"amp":27.0},{"series":"BKGND","freq":640.29,"amp":27.4},{"series":"BKGND","freq":654.81,"amp":27.8},{"series":"BKGND","freq":669.65,"amp":28.1},{"series":"BKGND","freq":684.84,"amp":28.1},{"series":"BKGND","freq":700.36,"amp":28.5},{"series":"BKGND","freq":716.24,"amp":28.8},{"series":"BKGND","freq":732.48,"amp":28.8},{"series":"BKGND","freq":749.09,"amp":29.2},{"series":"BKGND","freq":766.07,"amp":29.6},{"series":"BKGND","freq":783.44,"amp":28.5},{"series":"BKGND","freq":801.2,"amp":28.1},{"series":"BKGND","freq":819.37,"amp":29.6},{"series":"BKGND","freq":837.95,"amp":30.3},{"series":"BKGND","freq":843,"amp":30.3},{"series":"BKGND","freq":847.4,"amp":47.7},{"series":"BKGND","freq":852,"amp":30.3},{"series":"BKGND","freq":876.37,"amp":30.7},{"series":"BKGND","freq":896.24,"amp":31.0},{"series":"BKGND","freq":916.56,"amp":31.0},{"series":"BKGND","freq":921.7,"amp":31.0},{"series":"BKGND","freq":926.9,"amp":45.5},{"series":"BKGND","freq":932,"amp":30.7},{"series":"BKGND","freq":958.6,"amp":31.0},{"series":"BKGND","freq":980.33,"amp":31.0},{"series":"BKGND","freq":1000,"amp":31.0},
      {"series":"BKGND","freq":422.9,"amp":22.2},{"series":"BKGND","freq":432.5,"amp":21.0},{"series":"BKGND","freq":442.3,"amp":23.0},{"series":"BKGND","freq":452.4,"amp":21.7},{"series":"BKGND","freq":462.6,"amp":23.6},{"series":"BKGND","freq":473.1,"amp":22.2},{"series":"BKGND","freq":483.8,"amp":24.2},{"series":"BKGND","freq":494.8,"amp":23.0},{"series":"BKGND","freq":506.0,"amp":24.7},{"series":"BKGND","freq":517.5,"amp":23.5},{"series":"BKGND","freq":529.2,"amp":25.5},{"series":"BKGND","freq":541.2,"amp":24.2},{"series":"BKGND","freq":553.5,"amp":26.0},{"series":"BKGND","freq":566.0,"amp":24.7},{"series":"BKGND","freq":578.9,"amp":27.1},{"series":"BKGND","freq":592.0,"amp":26.9},{"series":"BKGND","freq":619.1,"amp":27.6},{"series":"BKGND","freq":633.2,"amp":26.4},{"series":"BKGND","freq":647.5,"amp":28.4},{"series":"BKGND","freq":662.2,"amp":27.1},{"series":"BKGND","freq":677.2,"amp":28.9},{"series":"BKGND","freq":692.6,"amp":27.5},{"series":"BKGND","freq":708.3,"amp":29.4},{"series":"BKGND","freq":724.4,"amp":28.0},{"series":"BKGND","freq":740.8,"amp":29.8},{"series":"BKGND","freq":757.6,"amp":28.6},{"series":"BKGND","freq":774.8,"amp":29.8},{"series":"BKGND","freq":792.3,"amp":29.1},{"series":"BKGND","freq":810.2,"amp":28.0},{"series":"BKGND","freq":828.7,"amp":30.7},
      {"series":"MILSTD-461E","freq":30,"amp":24},{"series":"MILSTD-461E","freq":100,"amp":24},{"series":"MILSTD-461E","freq":1000,"amp":44}
    ]
  },
  "vconcat": [
    {
      "title": {"text": "HEMP-T  MILSTD-461E RE102"},
      "width": 522, "height": 275,
      "data": {"name": "vert"},
      "layer": [
        {
          "encoding": {
            "x": {"field": "freq", "type": "quantitative", "scale": {"type": "log", "domain": [30, 1000], "nice": false}, "axis": {"title": "Frequency (MHz)", "titleFontSize": 16, "values": [30, 50, 100, 200, 400, 800, 1000], "format": "d", "labelFlush": false, "labelPadding": 4, "titlePadding": 5, "grid": true, "gridColor": "#858585", "gridWidth": 1}},
            "y": {"field": "amp", "type": "quantitative", "scale": {"domain": [10, 70], "nice": false}, "axis": {"title": "Amplitude (dBuV/m)", "values": [10, 20, 30, 40, 50, 60, 70], "labelPadding": 4, "titlePadding": 9, "grid": true, "gridColor": "#c8c8c8", "gridDash": [2, 2]}},
            "color": {"field": "series", "type": "nominal", "scale": {"domain": ["POSITION 1", "BKGND", "MILSTD-461E"], "range": ["#ee1111", "#22e022", "#000000"]}},
            "strokeDash": {"field": "series", "type": "nominal", "scale": {"domain": ["POSITION 1", "BKGND", "MILSTD-461E"], "range": [[1, 0], [1, 0], [5, 3]]}}
          },
          "layer": [
            {"transform": [{"filter": "datum.series === 'POSITION 1'"}], "mark": {"type": "line", "strokeWidth": 1.1, "clip": true}},
            {"transform": [{"filter": "datum.series === 'BKGND'"}], "mark": {"type": "line", "strokeWidth": 1.1, "clip": true}},
            {"transform": [{"filter": "datum.series === 'MILSTD-461E'"}], "mark": {"type": "line", "strokeWidth": 2, "clip": true}}
          ]
        },
        {
          "data": {"values": [{"label": "Vertical Polarization"}]},
          "mark": {"type": "text", "align": "left", "baseline": "middle", "fontSize": 16.5, "font": "Liberation Sans", "color": "black"},
          "encoding": {"x": {"datum": 101}, "y": {"datum": 64.6}, "text": {"field": "label"}}
        }
      ]
    },
    {
      "width": 522, "height": 275,
      "data": {"name": "horiz"},
      "layer": [
        {
          "encoding": {
            "x": {"field": "freq", "type": "quantitative", "scale": {"type": "log", "domain": [30, 1000], "nice": false}, "axis": {"title": "Frequency (MHz)", "titleFontSize": 16, "values": [30, 50, 100, 200, 400, 800, 1000], "format": "d", "labelFlush": false, "labelPadding": 4, "titlePadding": 5, "grid": true, "gridColor": "#858585", "gridWidth": 1}},
            "y": {"field": "amp", "type": "quantitative", "scale": {"domain": [10, 70], "nice": false}, "axis": {"title": "Amplitude (dBuV/m)", "values": [10, 20, 30, 40, 50, 60, 70], "labelPadding": 4, "titlePadding": 9, "grid": true, "gridColor": "#c8c8c8", "gridDash": [2, 2]}},
            "color": {"field": "series", "type": "nominal", "scale": {"domain": ["POSITION 1", "BKGND", "MILSTD-461E"], "range": ["#ee1111", "#22e022", "#000000"]}},
            "strokeDash": {"field": "series", "type": "nominal", "scale": {"domain": ["POSITION 1", "BKGND", "MILSTD-461E"], "range": [[1, 0], [1, 0], [5, 3]]}}
          },
          "layer": [
            {"transform": [{"filter": "datum.series === 'POSITION 1'"}], "mark": {"type": "line", "strokeWidth": 1.1, "clip": true}},
            {"transform": [{"filter": "datum.series === 'BKGND'"}], "mark": {"type": "line", "strokeWidth": 1.1, "clip": true}},
            {"transform": [{"filter": "datum.series === 'MILSTD-461E'"}], "mark": {"type": "line", "strokeWidth": 2, "clip": true}}
          ]
        },
        {
          "data": {"values": [{"label": "Horizontal Polarization"}]},
          "mark": {"type": "text", "align": "left", "baseline": "middle", "fontSize": 16.5, "font": "Liberation Sans", "color": "black"},
          "encoding": {"x": {"datum": 101}, "y": {"datum": 64.6}, "text": {"field": "label"}}
        }
      ]
    }
  ]
}
